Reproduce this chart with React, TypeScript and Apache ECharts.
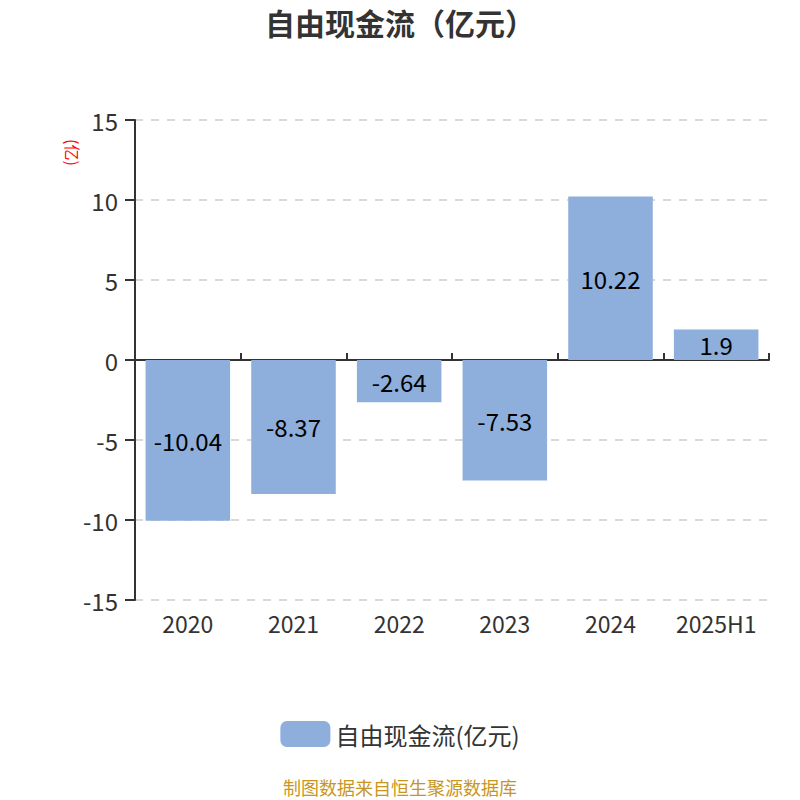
import { useEffect, useRef } from "react";
import * as echarts from "echarts";

const categories = ["2020", "2021", "2022", "2023", "2024", "2025H1"];
const freeCashFlow = [-10.04, -8.37, -2.64, -7.53, 10.22, 1.9];
const seriesName = "自由现金流(亿元)";

const FONT = "'Noto Sans CJK SC', 'Noto Sans', sans-serif";

export default function App() {
  const chartRef = useRef<HTMLDivElement>(null);

  useEffect(() => {
    if (!chartRef.current) return;
    const chart = echarts.init(chartRef.current, undefined, { renderer: "svg" });

    chart.setOption({
      animation: false,
      textStyle: { fontFamily: FONT },
      title: {
        text: "自由现金流（亿元）",
        left: "center",
        top: 2,
        textStyle: { fontSize: 30, fontWeight: "bold", color: "#333", fontFamily: FONT },
      },
      grid: { left: 135, right: 31, top: 120, bottom: 200 },
      legend: {
        top: 716,
        left: "center",
        itemWidth: 50,
        itemHeight: 26,
        itemGap: 10,
        textStyle: { fontSize: 24, color: "#333", fontFamily: FONT },
        data: [seriesName],
      },
      graphic: [
        {
          type: "text",
          x: 81,
          y: 139,
          rotation: -Math.PI / 2,
          style: { text: "(亿)", fill: "#ff0000", fontSize: 16, fontFamily: FONT },
        },
        {
          type: "text",
          left: "center",
          top: 778,
          style: {
            text: "制图数据来自恒生聚源数据库",
            fill: "#c8961e",
            fontSize: 18,
            fontFamily: FONT,
          },
        },
      ],
      xAxis: [
        {
          type: "category",
          data: categories,
          position: "bottom",
          axisLine: { show: false, onZero: false },
          axisTick: { show: false },
          axisLabel: { fontSize: 23, color: "#333", margin: 11, interval: 0 },
        },
        {
          type: "category",
          data: categories,
          position: "top",
          axisLine: { show: true, onZero: true, lineStyle: { color: "#333", width: 2 } },
          axisTick: { show: true, length: 7, lineStyle: { color: "#333", width: 2 } },
          axisLabel: { show: false },
        },
      ],
      yAxis: {
        type: "value",
        min: -15,
        max: 15,
        interval: 5,
        axisLine: { show: true, lineStyle: { color: "#333", width: 2 } },
        axisTick: { show: true, length: 10, lineStyle: { color: "#333", width: 2 } },
        axisLabel: { fontSize: 24, color: "#333", margin: 17 },
        splitLine: { show: true, lineStyle: { color: "#ccc", type: [8, 8], width: 1.5 } },
      },
      series: [
        {
          name: seriesName,
          type: "bar",
          xAxisIndex: 0,
          data: freeCashFlow,
          barWidth: "80%",
          itemStyle: { color: "#8eaedb" },
          label: {
            show: true,
            position: "inside",
            fontSize: 24,
            color: "#000",
            fontFamily: FONT,
          },
        },
      ],
    });

    return () => chart.dispose();
  }, []);

  return (
    <div
      ref={chartRef}
      style={{ position: "absolute", left: 0, top: 0, width: 800, height: 800 }}
    />
  );
}
